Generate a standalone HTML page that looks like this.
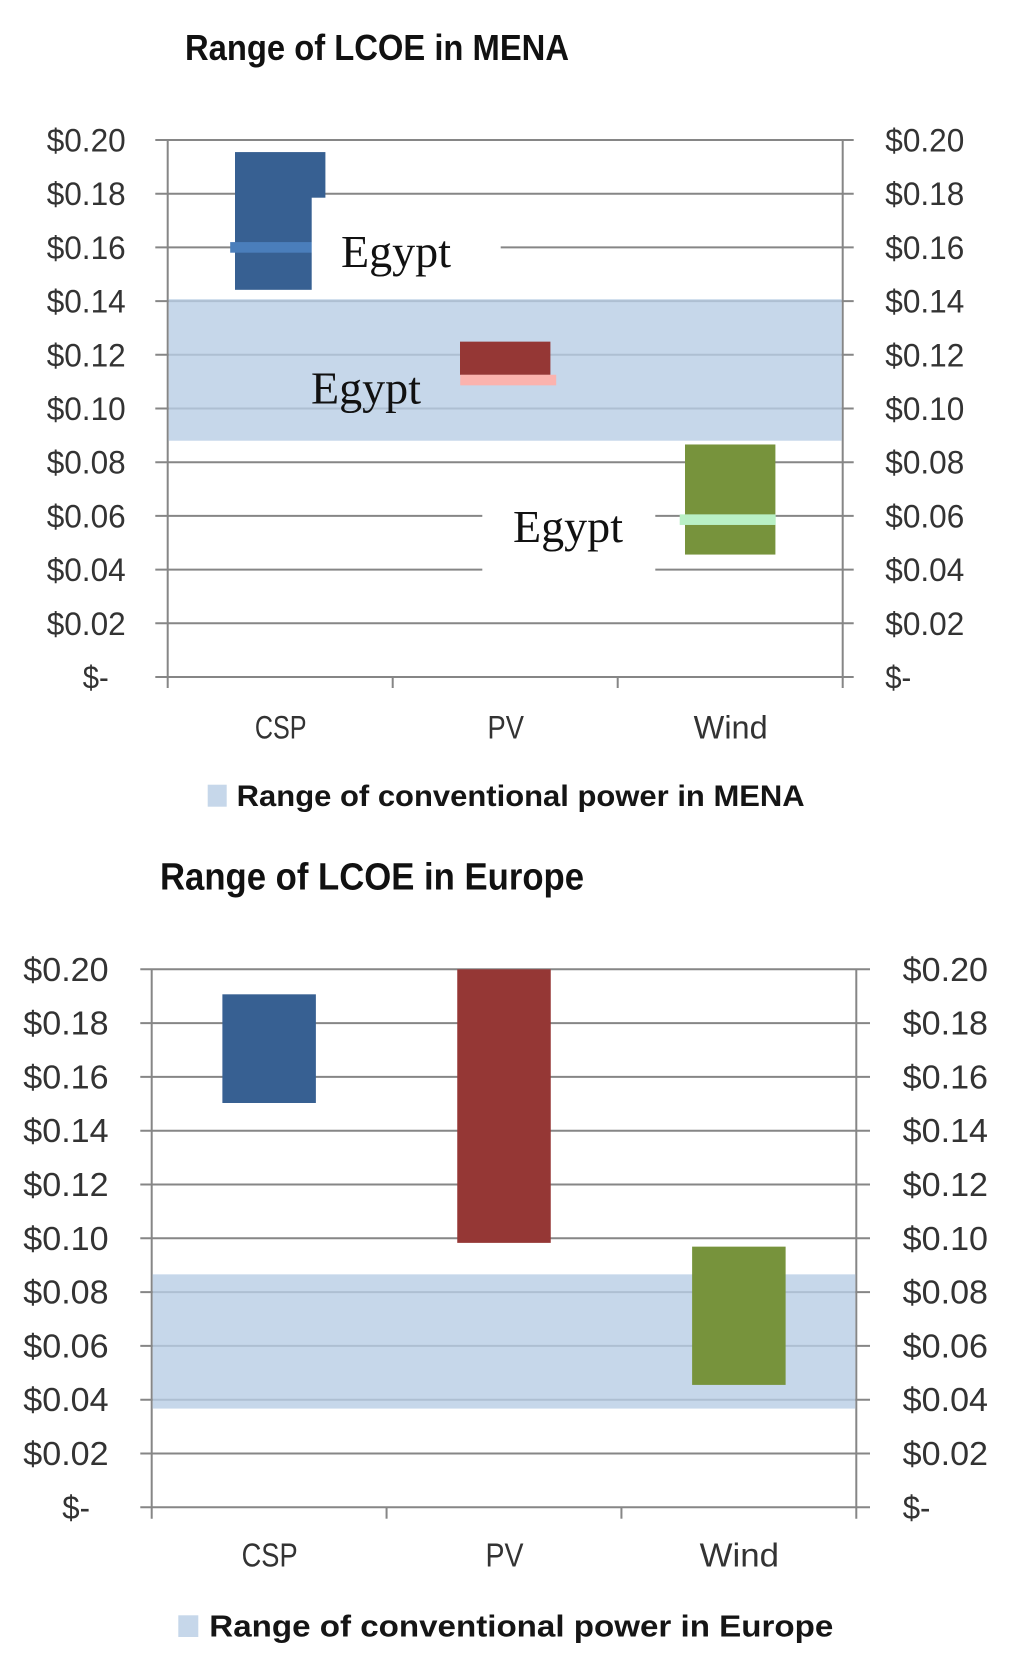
<!DOCTYPE html>
<html lang="en">
<head>
<meta charset="utf-8">
<title>Range of LCOE in MENA and Europe</title>
<style>
  html, body { margin: 0; padding: 0; background: #fff; }
  svg { display: block; }
  text { font-family: "Liberation Sans", sans-serif; }
  .title { font-weight: bold; fill: #111; }
  .legend { font-weight: bold; fill: #151515; }
  .egypt { font-family: "Liberation Serif", serif; font-size: 45px; fill: #111; }
</style>
</head>
<body>
<svg id="page" xmlns="http://www.w3.org/2000/svg" width="1024" height="1679" viewBox="0 0 1024 1679">
  <rect x="0" y="0" width="1024" height="1679" fill="#ffffff"/>

  <g>
    <text class="title" x="185" y="60" font-size="36" textLength="384" lengthAdjust="spacingAndGlyphs">Range of LCOE in MENA</text>
    <g id="mena-marks"></g>
    <rect x="311.7" y="197.7" width="189" height="100.5" fill="#ffffff"/>
    <rect x="482.3" y="470" width="173" height="130" fill="#ffffff"/>
    <text class="egypt" x="341" y="267" textLength="110" lengthAdjust="spacingAndGlyphs">Egypt</text>
    <text class="egypt" x="311" y="403.5" textLength="110" lengthAdjust="spacingAndGlyphs">Egypt</text>
    <text class="egypt" x="513" y="542" textLength="110" lengthAdjust="spacingAndGlyphs">Egypt</text>
    <rect x="207.7" y="784.7" width="19" height="22" fill="#c6d7ea"/>
    <text class="legend" x="236.7" y="806" font-size="30" textLength="568" lengthAdjust="spacingAndGlyphs">Range of conventional power in MENA</text>
  </g>

  <g>
    <text class="title" x="160" y="889.3" font-size="38" textLength="424" lengthAdjust="spacingAndGlyphs">Range of LCOE in Europe</text>
    <g id="europe-marks"></g>
    <rect x="178.3" y="1615.3" width="20" height="21.7" fill="#c6d7ea"/>
    <text class="legend" x="209.3" y="1636.7" font-size="31" textLength="624" lengthAdjust="spacingAndGlyphs">Range of conventional power in Europe</text>
  </g>
</svg>

<script>
const categories = ['CSP', 'PV', 'Wind'];
const tickValues = [0, 0.02, 0.04, 0.06, 0.08, 0.10, 0.12, 0.14, 0.16, 0.18, 0.20];
const tickLabels = ['$-', '$0.02', '$0.04', '$0.06', '$0.08', '$0.10', '$0.12', '$0.14', '$0.16', '$0.18', '$0.20'];
const barColors = ['#376092', '#953735', '#77933c'];
const markerColors = ['#4a7ebb', '#fbb3ae', '#b9f0c5'];

const menaLow = [0.1442, 0.1125, 0.0456];
const menaHigh = [0.1955, 0.1249, 0.0866];
const menaEgypt = [0.16, 0.1106, 0.0586];
const menaBand = [0.088, 0.1407];

const europeLow = [0.1503, 0.0983, 0.0455];
const europeHigh = [0.1907, 0.2, 0.0969];
const europeBand = [0.0367, 0.0866];

const SVG_NS = 'http://www.w3.org/2000/svg';

function makeRect(parent, x, y, w, h, fill) {
  const r = document.createElementNS(SVG_NS, 'rect');
  r.setAttribute('x', x);
  r.setAttribute('y', y);
  r.setAttribute('width', w);
  r.setAttribute('height', h);
  r.setAttribute('fill', fill);
  parent.appendChild(r);
  return r;
}

function makeLine(parent, x1, y1, x2, y2) {
  const l = document.createElementNS(SVG_NS, 'line');
  l.setAttribute('x1', x1);
  l.setAttribute('y1', y1);
  l.setAttribute('x2', x2);
  l.setAttribute('y2', y2);
  l.setAttribute('stroke', '#868686');
  l.setAttribute('stroke-width', 2);
  parent.appendChild(l);
  return l;
}

function makeText(parent, str, x, y, size, len) {
  const t = document.createElementNS(SVG_NS, 'text');
  t.textContent = str;
  t.setAttribute('x', x);
  t.setAttribute('y', y);
  t.setAttribute('font-size', size);
  t.setAttribute('fill', '#333333');
  t.setAttribute('textLength', len);
  t.setAttribute('lengthAdjust', 'spacingAndGlyphs');
  parent.appendChild(t);
  return t;
}

function drawChart(root, cfg, low, high, band, egypt) {
  const yScale = function (v) { return cfg.y0 - (v / 0.2) * cfg.yHeight; };
  const catWidth = (cfg.xRight - cfg.xLeft) / categories.length;
  const xCenter = function (i) { return cfg.xLeft + catWidth * (i + 0.5); };

  tickValues.forEach(function (v, i) {
    const y = yScale(v);
    const grid = makeLine(root, cfg.tickLeft, y, cfg.tickRight, y);
    
    

    const isZero = tickLabels[i].length < 3;
    const leftX = isZero ? cfg.zeroLabelLeft : cfg.labelLeft;
    const w = isZero ? cfg.zeroLabelWidth : cfg.labelWidth;
    const leftLabel = makeText(root, tickLabels[i], leftX, y + cfg.labelDy, cfg.labelSize, w);
    
    
    const rightLabel = makeText(root, tickLabels[i], cfg.labelRight, y + cfg.labelDy, cfg.labelSize, w);
    
    
  });

  for (let i = 0; i <= categories.length; i++) {
    const x = cfg.xLeft + catWidth * i;
    const top = (i === 0 || i === categories.length) ? yScale(0.2) : cfg.y0;
    const axisLine = makeLine(root, x, top, x, cfg.tickBottom);
    
    
  }

  const bandRect = makeRect(root, cfg.xLeft + 1, yScale(band[1]), cfg.xRight - cfg.xLeft - 2,
    yScale(band[0]) - yScale(band[1]), '#b8cde5');
  bandRect.setAttribute('fill-opacity', 0.8);
  
  

  categories.forEach(function (cat, i) {
    const bar = makeRect(root, xCenter(i) - cfg.barWidth / 2, yScale(high[i]), cfg.barWidth,
      yScale(low[i]) - yScale(high[i]), barColors[i]);
    
    

    if (egypt) {
      const dx = [-2, 3, -2.5][i];
      const marker = makeRect(root, xCenter(i) + dx - 48, yScale(egypt[i]) - 5.3, 96, 10.6, markerColors[i]);
      
      
    }

    const w = cfg.catWidths[i];
    const label = makeText(root, cat, xCenter(i) + 0.5 - w / 2, cfg.catBaseline, cfg.labelSize, w);
    
    
  });
}

drawChart(document.getElementById('mena-marks'), {
  y0: 677, yHeight: 537,
  xLeft: 167.7, xRight: 842.7,
  tickLeft: 155.3, tickRight: 853.7, tickBottom: 688,
  barWidth: 90.4,
  labelLeft: 46.7, labelRight: 885.3, labelWidth: 79,
  zeroLabelLeft: 82.7, zeroLabelWidth: 26,
  labelSize: 32, labelDy: 11.5,
  catBaseline: 738.3, catWidths: [51.7, 36.4, 74]
}, menaLow, menaHigh, menaBand, menaEgypt);

drawChart(document.getElementById('europe-marks'), {
  y0: 1507.3, yHeight: 538,
  xLeft: 151.7, xRight: 856.3,
  tickLeft: 140.3, tickRight: 870, tickBottom: 1518.7,
  barWidth: 93.5,
  labelLeft: 23.3, labelRight: 902.7, labelWidth: 85.3,
  zeroLabelLeft: 62.3, zeroLabelWidth: 27.7,
  labelSize: 33, labelDy: 11.5,
  catBaseline: 1566.7, catWidths: [56, 38, 79.4]
}, europeLow, europeHigh, europeBand, null);
</script>
</body>
</html>
